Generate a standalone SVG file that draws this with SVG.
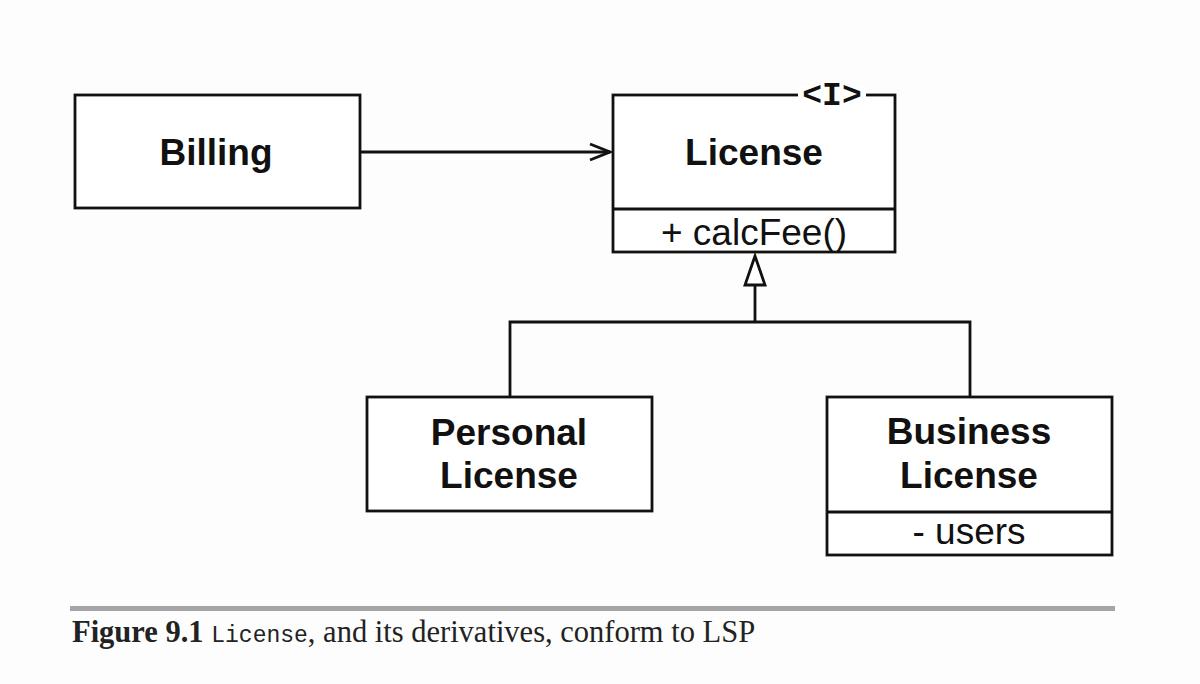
<svg xmlns="http://www.w3.org/2000/svg" width="1200" height="684" viewBox="0 0 1200 684">
<style>
.box{fill:#fff;stroke:#111;stroke-width:2.8}
.ln{fill:none;stroke:#111;stroke-width:2.8}
.t{font-family:"Liberation Sans",Arial,sans-serif;font-weight:bold;font-size:37px;fill:#111;text-anchor:middle}
.m{font-family:"Liberation Sans",Arial,sans-serif;font-size:37px;fill:#111;text-anchor:middle}
.cap{font-family:"Liberation Serif","Times New Roman",serif;font-size:30.5px;fill:#222}
</style>
<defs>
<marker id="open" markerWidth="24" markerHeight="20" refX="22" refY="10" orient="auto" markerUnits="userSpaceOnUse">
<path d="M2,2 L22,10 L2,18" fill="none" stroke="#111" stroke-width="2.8"/>
</marker>
</defs>
<rect width="1200" height="684" fill="#fdfdfd"/>
<g id="connectors">
<line class="ln" x1="360" y1="152" x2="610" y2="152" marker-end="url(#open)"/>
<polyline class="ln" points="510,397 510,322 970,322 970,397"/>
<line class="ln" x1="755" y1="322" x2="755" y2="285"/>
<polygon points="755,256 745,285 765,285" fill="#fff" stroke="#111" stroke-width="2.8"/>
</g>
<g id="billing">
<rect class="box" x="75" y="95" width="285" height="113"/>
<text class="t" x="216" y="165">Billing</text>
</g>
<g id="license">
<rect class="box" x="613" y="95" width="282" height="157"/>
<line class="ln" x1="613" y1="209" x2="895" y2="209"/>
<rect x="798" y="86" width="68" height="16" fill="#fff"/>
<text x="832" y="105" font-family="Liberation Mono,monospace" font-weight="bold" font-size="33" text-anchor="middle" fill="#111">&lt;I&gt;</text>
<text class="t" x="754" y="165">License</text>
<text class="m" x="754" y="245">+ calcFee()</text>
</g>
<g id="personal">
<rect class="box" x="367" y="397" width="285" height="114"/>
<text class="t" x="509" y="445">Personal</text>
<text class="t" x="509" y="488">License</text>
</g>
<g id="business">
<rect class="box" x="827" y="397" width="285" height="158"/>
<line class="ln" x1="827" y1="512" x2="1112" y2="512"/>
<text class="t" x="969" y="444">Business</text>
<text class="t" x="969" y="488">License</text>
<text class="m" x="969" y="544">- users</text>
</g>
<g id="caption">
<rect x="70" y="606" width="1045" height="5" fill="#a5a5a8"/>
<text class="cap" x="72" y="642"><tspan font-weight="bold">Figure 9.1</tspan> <tspan font-family="Liberation Mono,monospace" font-size="23">License</tspan>, and its derivatives, conform to LSP</text>
</g>
</svg>
